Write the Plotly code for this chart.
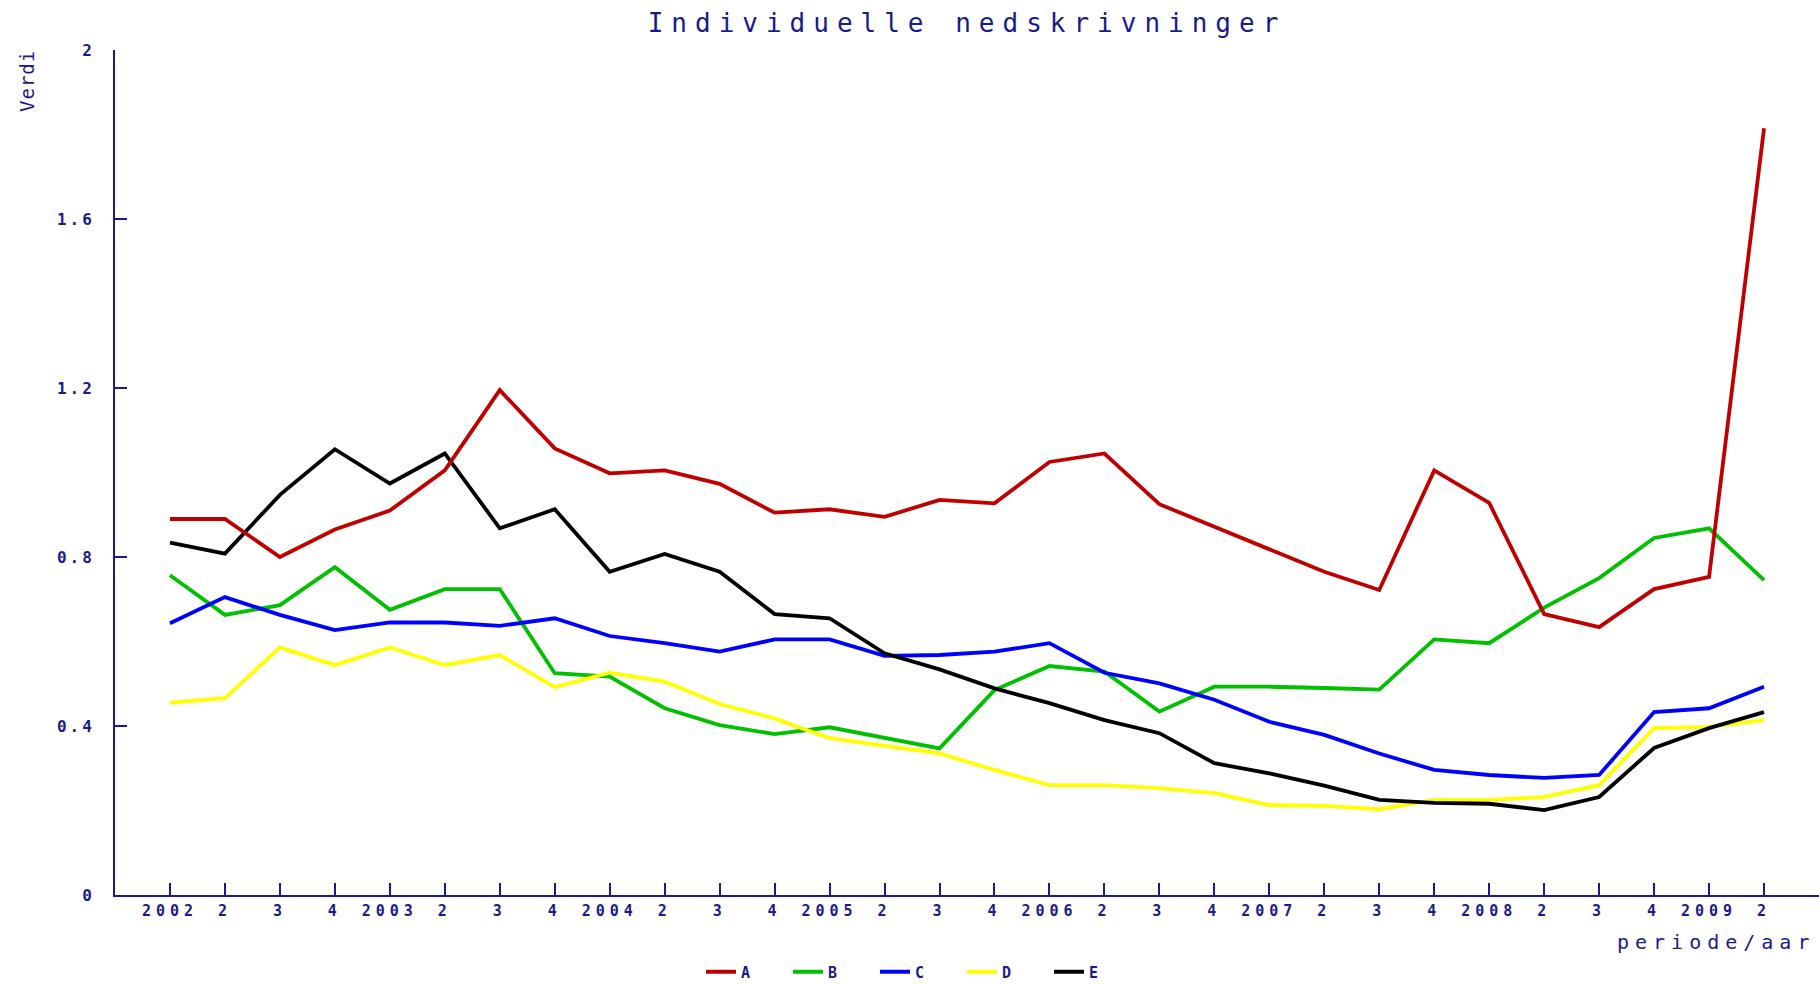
import plotly.graph_objects as go

periods = ["2002", "2", "3", "4", "2003", "2", "3", "4", "2004", "2", "3", "4",
           "2005", "2", "3", "4", "2006", "2", "3", "4", "2007", "2", "3", "4",
           "2008", "2", "3", "4", "2009", "2"]

series_a = [0.89, 0.89, 0.80, 0.865, 0.91, 1.005, 1.195, 1.057, 0.998, 1.005, 0.973, 0.905,
            0.913, 0.895, 0.935, 0.927, 1.025, 1.045, 0.925, 0.872, 0.817, 0.765, 0.722, 1.005,
            0.928, 0.665, 0.634, 0.724, 0.753, 1.815]
series_b = [0.757, 0.663, 0.686, 0.776, 0.675, 0.724, 0.724, 0.525, 0.517, 0.442, 0.402, 0.381,
            0.397, 0.371, 0.347, 0.485, 0.542, 0.529, 0.434, 0.493, 0.493, 0.49, 0.486, 0.605,
            0.596, 0.68, 0.75, 0.845, 0.868, 0.745]
series_c = [0.643, 0.705, 0.663, 0.627, 0.645, 0.645, 0.637, 0.655, 0.613, 0.596, 0.576, 0.605,
            0.605, 0.566, 0.568, 0.576, 0.596, 0.526, 0.501, 0.462, 0.41, 0.379, 0.335, 0.296,
            0.284, 0.277, 0.284, 0.433, 0.442, 0.493]
series_d = [0.455, 0.466, 0.586, 0.544, 0.586, 0.544, 0.568, 0.492, 0.526, 0.505, 0.452, 0.418,
            0.371, 0.353, 0.335, 0.296, 0.26, 0.26, 0.253, 0.241, 0.213, 0.211, 0.203, 0.225,
            0.225, 0.232, 0.26, 0.395, 0.398, 0.414]
series_e = [0.834, 0.808, 0.947, 1.055, 0.974, 1.045, 0.868, 0.913, 0.765, 0.807, 0.765, 0.665,
            0.655, 0.572, 0.534, 0.489, 0.454, 0.414, 0.383, 0.312, 0.288, 0.259, 0.225, 0.218,
            0.216, 0.201, 0.232, 0.348, 0.395, 0.433]

y_ticks = [0, 0.4, 0.8, 1.2, 1.6, 2]
y_tick_labels = ["0", "0.4", "0.8", "1.2", "1.6", "2"]

NAVY = "#1a1a8c"
MONO = "DejaVu Sans Mono"

def spaced(t, px):
    return '<span style="letter-spacing:%spx">%s</span>' % (px, t)

x_idx = list(range(len(periods)))

# draw order (z-order as in reference), legend order kept by legendrank
traces = [
    ("B", series_b, "#00c000", 2),
    ("C", series_c, "#0000ff", 3),
    ("D", series_d, "#ffff00", 4),
    ("E", series_e, "#000000", 5),
    ("A", series_a, "#c00000", 1),
]

fig = go.Figure()
for name, vals, col, rank in traces:
    fig.add_trace(go.Scatter(
        x=x_idx, y=vals, mode="lines", name=name,
        line=dict(color=col, width=3.8),
        legendrank=rank,
    ))

fig.update_layout(
    width=1819, height=984,
    margin=dict(l=115, r=0, t=50, b=89),
    paper_bgcolor="white", plot_bgcolor="white",
    title=dict(
        text=spaced("Individuelle nedskrivninger", 8),
        x=0.5, xref="paper", xanchor="center",
        y=1 - 23 / 984, yref="container", yanchor="middle",
        font=dict(family=MONO, size=26, color=NAVY),
    ),
    showlegend=True,
    legend=dict(
        orientation="h", x=0.5 + 9 / 1819, xref="container", xanchor="center",
        y=1 - 972 / 984, yref="container", yanchor="middle",
        font=dict(family=MONO, size=15, color=NAVY, weight="bold"),
        entrywidth=42, entrywidthmode="pixels",
        traceorder="normal",
    ),
    xaxis=dict(
        range=[-1, 30], showgrid=False, zeroline=False,
        showline=True, linecolor=NAVY, linewidth=2,
        tickmode="array", tickvals=x_idx,
        ticktext=[spaced(p, 5) for p in periods],
        ticks="inside", ticklen=12, tickwidth=2, tickcolor=NAVY,
        tickfont=dict(family=MONO, size=15, color=NAVY, weight="bold"),
        ticklabelstandoff=1,
    ),
    yaxis=dict(
        range=[0, 2], showgrid=False, zeroline=False,
        showline=True, linecolor=NAVY, linewidth=2,
        tickmode="array", tickvals=y_ticks,
        ticktext=[spaced(t, 3) for t in y_tick_labels],
        ticks="inside", ticklen=12, tickwidth=2, tickcolor=NAVY,
        tickfont=dict(family=MONO, size=16, color=NAVY, weight="bold"),
        ticklabelstandoff=15,
    ),
    annotations=[
        dict(text=spaced("Verdi", 1), xref="paper", yref="paper",
             x=(27 - 115) / 1704, y=(895 - 81) / 845, textangle=-90,
             showarrow=False, xanchor="center", yanchor="middle",
             font=dict(family=MONO, size=19, color=NAVY)),
        dict(text=spaced("periode/aar", 6), xref="paper", yref="paper",
             x=1, y=(895 - 942) / 845, xanchor="right", yanchor="middle",
             xshift=-2, showarrow=False,
             font=dict(family=MONO, size=20, color=NAVY)),
    ],
)

fig.write_html("out.html", config={"displayModeBar": False},
               post_script="document.body.style.margin='0';")
